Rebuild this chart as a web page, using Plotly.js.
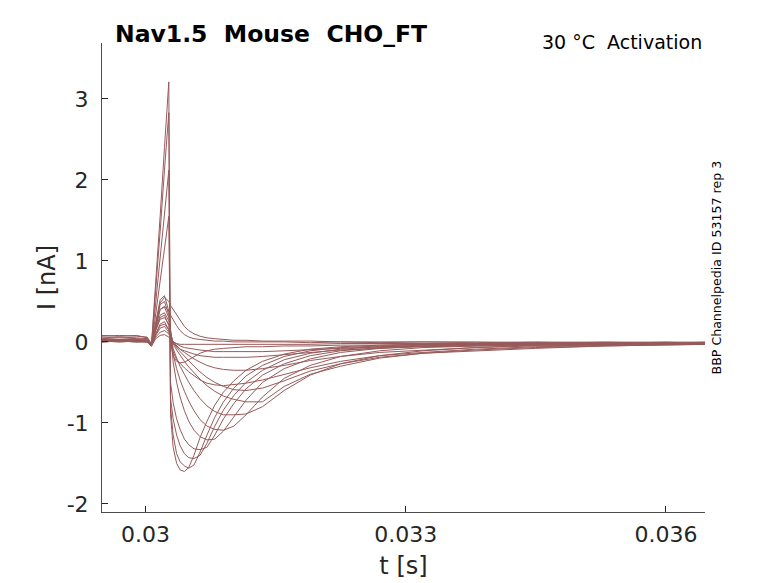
<!DOCTYPE html>
<html>
<head>
<meta charset="utf-8">
<script src="https://cdn.plot.ly/plotly-3.0.1.min.js"></script>
<style>
  html, body { margin: 0; padding: 0; background: #fff; }
  #plot { width: 778px; height: 583px; }
</style>
</head>
<body>
<div id="plot"></div>
<script>
// Sample times (s), shared by every sweep.
const TIME_S = [
  0.02950, 0.02970, 0.02990, 0.03002, 0.03007, 0.03012, 0.03017, 0.03022,
  0.03027, 0.03029, 0.03032, 0.03036, 0.03040, 0.03045, 0.03050, 0.03056,
  0.03063, 0.03071, 0.03080, 0.03090, 0.03102, 0.03116, 0.03135, 0.03160,
  0.03190, 0.03225, 0.03270, 0.03320, 0.03380, 0.03450, 0.03530, 0.03600,
  0.03645
];

// Current sweeps (nA).
const SWEEP_01 = [0.03, 0.02, 0.03, 0.01, -0.04, 0.70, 1.55, 2.40, 3.21, -0.70, -0.95, -1.15, -1.28, -1.38, -1.43, -1.44, -1.40, -1.25, -1.04, -0.84, -0.66, -0.50, -0.35, -0.22, -0.14, -0.09, -0.06, -0.04, -0.03, -0.02, -0.01, -0.01, -0.02];
const SWEEP_02 = [0.02, 0.03, 0.02, 0.01, -0.04, 0.62, 1.36, 2.12, 2.83, -0.90, -1.30, -1.50, -1.58, -1.60, -1.55, -1.40, -1.18, -0.98, -0.78, -0.62, -0.48, -0.35, -0.24, -0.15, -0.09, -0.06, -0.04, -0.03, -0.02, -0.02, -0.01, -0.02, -0.01];
const SWEEP_03 = [0.00, 0.01, 0.00, 0.00, -0.05, 0.47, 1.02, 1.59, 2.12, -0.80, -1.15, -1.38, -1.48, -1.53, -1.56, -1.52, -1.36, -1.15, -0.93, -0.74, -0.57, -0.42, -0.29, -0.18, -0.11, -0.07, -0.05, -0.03, -0.02, -0.01, -0.02, -0.01, -0.02];
const SWEEP_04 = [0.01, 0.00, 0.01, 0.00, -0.05, 0.34, 0.74, 1.16, 1.55, -0.50, -0.75, -0.95, -1.08, -1.20, -1.27, -1.32, -1.33, -1.30, -1.15, -0.95, -0.76, -0.58, -0.41, -0.27, -0.17, -0.11, -0.07, -0.05, -0.03, -0.02, -0.01, -0.02, -0.01];
const SWEEP_05 = [0.08, 0.07, 0.08, 0.05, -0.03, 0.25, 0.52, 0.57, 0.38, 0.15, -0.25, -0.50, -0.68, -0.85, -0.98, -1.09, -1.17, -1.21, -1.20, -1.10, -0.92, -0.72, -0.50, -0.33, -0.21, -0.13, -0.08, -0.05, -0.04, -0.02, -0.02, -0.01, -0.02];
const SWEEP_06 = [0.02, 0.03, 0.02, 0.02, -0.04, 0.22, 0.46, 0.50, 0.33, 0.12, -0.15, -0.33, -0.47, -0.61, -0.73, -0.85, -0.96, -1.04, -1.08, -1.09, -1.04, -0.90, -0.68, -0.45, -0.29, -0.18, -0.11, -0.07, -0.05, -0.03, -0.02, -0.02, -0.02];
const SWEEP_07 = [0.01, 0.02, 0.01, 0.01, -0.05, 0.20, 0.40, 0.43, 0.30, 0.12, -0.08, -0.20, -0.30, -0.40, -0.50, -0.60, -0.70, -0.79, -0.86, -0.90, -0.90, -0.89, -0.80, -0.60, -0.41, -0.27, -0.17, -0.11, -0.07, -0.04, -0.03, -0.03, -0.02];
const SWEEP_08 = [0.07, 0.08, 0.07, 0.06, -0.02, 0.17, 0.33, 0.36, 0.26, 0.12, -0.02, -0.10, -0.17, -0.24, -0.31, -0.38, -0.46, -0.54, -0.61, -0.67, -0.71, -0.74, -0.74, -0.55, -0.40, -0.30, -0.20, -0.14, -0.11, -0.08, -0.05, -0.04, -0.03];
const SWEEP_09 = [0.03, 0.02, 0.03, 0.02, -0.04, 0.14, 0.28, 0.30, 0.22, 0.10, 0.00, -0.07, -0.12, -0.18, -0.24, -0.30, -0.37, -0.44, -0.50, -0.55, -0.59, -0.60, -0.57, -0.48, -0.36, -0.27, -0.19, -0.14, -0.10, -0.07, -0.05, -0.04, -0.03];
const SWEEP_10 = [0.02, 0.01, 0.02, 0.01, -0.05, 0.10, 0.22, 0.25, 0.15, 0.05, -0.12, -0.22, -0.27, -0.32, -0.37, -0.42, -0.47, -0.51, -0.53, -0.54, -0.53, -0.51, -0.47, -0.40, -0.32, -0.24, -0.17, -0.13, -0.09, -0.06, -0.04, -0.03, -0.03];
const SWEEP_11 = [0.00, 0.01, 0.00, 0.01, -0.05, 0.10, 0.20, 0.22, 0.15, 0.07, 0.00, -0.05, -0.09, -0.13, -0.17, -0.21, -0.25, -0.29, -0.32, -0.34, -0.35, -0.35, -0.33, -0.29, -0.23, -0.18, -0.13, -0.10, -0.07, -0.05, -0.04, -0.03, -0.02];
const SWEEP_12 = [0.04, 0.05, 0.04, 0.03, -0.04, 0.15, 0.30, 0.33, 0.20, 0.00, -0.18, -0.24, -0.26, -0.25, -0.22, -0.18, -0.14, -0.11, -0.09, -0.08, -0.07, -0.06, -0.06, -0.05, -0.05, -0.04, -0.04, -0.03, -0.03, -0.02, -0.02, -0.02, -0.01];
const SWEEP_13 = [0.01, 0.00, 0.01, 0.00, -0.05, 0.08, 0.17, 0.19, 0.12, 0.05, -0.02, -0.06, -0.09, -0.11, -0.13, -0.15, -0.17, -0.18, -0.19, -0.19, -0.19, -0.19, -0.18, -0.16, -0.13, -0.10, -0.08, -0.06, -0.05, -0.04, -0.03, -0.02, -0.02];
const SWEEP_14 = [0.02, 0.03, 0.02, 0.02, -0.04, 0.06, 0.12, 0.14, 0.10, 0.04, 0.00, -0.03, -0.05, -0.07, -0.08, -0.09, -0.10, -0.11, -0.12, -0.12, -0.12, -0.12, -0.12, -0.11, -0.10, -0.08, -0.06, -0.05, -0.04, -0.03, -0.03, -0.02, -0.02];
const SWEEP_15 = [0.05, 0.06, 0.05, 0.04, -0.03, 0.22, 0.48, 0.55, 0.50, 0.45, 0.40, 0.33, 0.26, 0.19, 0.14, 0.10, 0.07, 0.05, 0.04, 0.03, 0.02, 0.02, 0.01, 0.01, 0.01, 0.00, 0.00, 0.00, 0.00, -0.01, 0.00, -0.01, 0.00];
const SWEEP_16 = [0.02, 0.01, 0.02, 0.01, -0.05, 0.18, 0.40, 0.44, 0.38, 0.33, 0.27, 0.20, 0.14, 0.09, 0.06, 0.04, 0.03, 0.02, 0.01, 0.01, 0.00, 0.00, 0.00, 0.00, -0.01, 0.00, -0.01, 0.00, -0.01, 0.00, -0.01, 0.00, -0.01];
const SWEEP_17 = [0.00, 0.01, 0.00, 0.00, -0.05, 0.04, 0.08, 0.09, 0.06, 0.03, 0.00, -0.02, -0.03, -0.03, -0.03, -0.03, -0.03, -0.03, -0.03, -0.03, -0.03, -0.03, -0.03, -0.03, -0.03, -0.02, -0.02, -0.02, -0.02, -0.02, -0.02, -0.01, -0.02];

const SWEEPS = [
  SWEEP_01, SWEEP_02, SWEEP_03, SWEEP_04, SWEEP_05, SWEEP_06, SWEEP_07, SWEEP_08, SWEEP_09,
  SWEEP_10, SWEEP_11, SWEEP_12, SWEEP_13, SWEEP_14, SWEEP_15, SWEEP_16, SWEEP_17
];

const X_TICKS = [0.03, 0.033, 0.036];
const X_TICK_TEXT = ['0.03', '0.033', '0.036'];
const Y_TICKS = [-2, -1, 0, 1, 2, 3];
const Y_TICK_TEXT = ['-2', '-1', '0', '1', '2', '3'];

const TRACE_COLOR = '#985a5a';
const AXIS_COLOR = '#262626';
const FONT = 'DejaVu Sans, sans-serif';
const NBSP = '\u00a0';

let plotData = SWEEPS.map(function(sweep) {
  return {
    x: TIME_S, y: sweep, type: 'scatter', mode: 'lines',
    line: {color: TRACE_COLOR, width: 1},
    hoverinfo: 'skip', showlegend: false
  };
});

const layout = {
  width: 778, height: 583,
  margin: {l: 102, r: 73, t: 43, b: 71, pad: 0},
  paper_bgcolor: '#ffffff', plot_bgcolor: '#ffffff',
  font: {family: FONT, color: AXIS_COLOR},
  showlegend: false,
  title: {
    text: '<b>Nav1.5' + NBSP + NBSP + 'Mouse' + NBSP + NBSP + 'CHO_FT</b>',
    font: {family: FONT, size: 23.5, color: '#000000'},
    xref: 'container', x: 115 / 778, xanchor: 'left',
    yref: 'container', y: 1 - 42 / 583, yanchor: 'bottom', pad: {b: 0}
  },
  xaxis: {
    range: [0.0295, 0.03645],
    tickmode: 'array', tickvals: X_TICKS, ticktext: X_TICK_TEXT,
    ticks: 'inside', ticklen: 6, tickwidth: 1, tickcolor: AXIS_COLOR,
    showline: true, linecolor: '#4d4d4d', linewidth: 1, mirror: false,
    showgrid: false, zeroline: false,
    tickfont: {family: FONT, size: 22, color: AXIS_COLOR},
    ticklabelstandoff: 3,
    title: {text: 't [s]', font: {family: FONT, size: 24, color: AXIS_COLOR}, standoff: 10}
  },
  yaxis: {
    range: [-2.1, 3.69],
    tickmode: 'array', tickvals: Y_TICKS, ticktext: Y_TICK_TEXT,
    ticks: 'inside', ticklen: 6, tickwidth: 1, tickcolor: AXIS_COLOR,
    showline: true, linecolor: '#4d4d4d', linewidth: 1, mirror: false,
    showgrid: false, zeroline: false,
    tickfont: {family: FONT, size: 22, color: AXIS_COLOR},
    ticklabelstandoff: 8,
    title: {text: 'I [nA]', font: {family: FONT, size: 24, color: AXIS_COLOR}, standoff: 4}
  },
  annotations: [
    {
      text: '30 °C' + NBSP + NBSP + 'Activation',
      xref: 'paper', yref: 'paper', x: 1, y: 1, xanchor: 'right', yanchor: 'bottom',
      yshift: -12, xshift: -1, showarrow: false,
      font: {family: FONT, size: 19, color: '#000000'}
    },
    {
      text: 'BBP Channelpedia ID 53157 rep 3',
      xref: 'paper', yref: 'paper', x: 1, y: (512 - 267.5) / 469,
      xanchor: 'center', yanchor: 'middle', xshift: 11, textangle: -90,
      showarrow: false,
      font: {family: FONT, size: 12.6, color: '#000000'}
    }
  ]
};

Plotly.newPlot('plot', plotData, layout, {displayModeBar: false, staticPlot: true});
</script>
</body>
</html>
